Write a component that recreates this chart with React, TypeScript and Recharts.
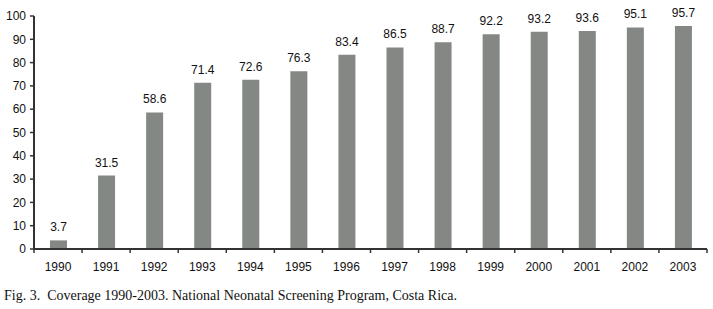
import React from 'react';
import { BarChart, Bar, XAxis, YAxis, LabelList } from 'recharts';

const years = ['1990','1991','1992','1993','1994','1995','1996','1997','1998','1999','2000','2001','2002','2003'];
const coverage = [3.7, 31.5, 58.6, 71.4, 72.6, 76.3, 83.4, 86.5, 88.7, 92.2, 93.2, 93.6, 95.1, 95.7];
const yTicks = [0, 10, 20, 30, 40, 50, 60, 70, 80, 90, 100];
const caption = 'Fig. 3.  Coverage 1990-2003. National Neonatal Screening Program, Costa Rica.';

const data = years.map((y, i) => ({ year: y, value: coverage[i] }));

const AXIS = '#333';

const XTick = (props: any) => {
  const { x, y, payload, index, visibleTicksCount } = props;
  const off = payload.offset || 0;
  const last = index === (visibleTicksCount ?? years.length) - 1;
  return (
    <g>
      <line x1={x - off} x2={x - off} y1={y - 8} y2={y - 4} stroke={AXIS} strokeWidth={1.5} />
      {last && <line x1={x + off} x2={x + off} y1={y - 8} y2={y - 4} stroke={AXIS} strokeWidth={1.5} />}
      <text x={x} y={y + 14} textAnchor="middle" fontSize={12} fill="#111" fontFamily="Liberation Sans, Arial, sans-serif">
        {payload.value}
      </text>
    </g>
  );
};

export default function App() {
  return (
    <div style={{ position: 'absolute', left: 0, top: 0, width: 713, height: 309, background: '#fff' }}>
      <BarChart width={713} height={280} data={data} margin={{ top: 16, right: 6, left: 0, bottom: 9 }} barCategoryGap={0}>
        <XAxis
          dataKey="year"
          height={22}
          axisLine={{ stroke: AXIS, strokeWidth: 2 }}
          tickLine={false}
          tick={<XTick />}
          interval={0}
        />
        <YAxis
          width={34}
          domain={[0, 100]}
          ticks={yTicks}
          interval={0}
          axisLine={{ stroke: AXIS, strokeWidth: 2 }}
          tickLine={{ stroke: AXIS, strokeWidth: 1.5 }}
          tickSize={4}
          tickMargin={4}
          tick={{ fontSize: 12, fill: '#111', fontFamily: 'Liberation Sans, Arial, sans-serif' }}
        />
        <Bar dataKey="value" fill="#838884" barSize={17} isAnimationActive={false}>
          <LabelList dataKey="value" position="top" offset={9} style={{ fontSize: 12, fill: '#111', fontFamily: 'Liberation Sans, Arial, sans-serif' }} />
        </Bar>
      </BarChart>
      <div style={{ position: 'absolute', left: 4, top: 288, fontFamily: 'Liberation Serif, Times New Roman, serif', fontSize: 14, color: '#111', whiteSpace: 'pre' }}>
        {caption}
      </div>
    </div>
  );
}
